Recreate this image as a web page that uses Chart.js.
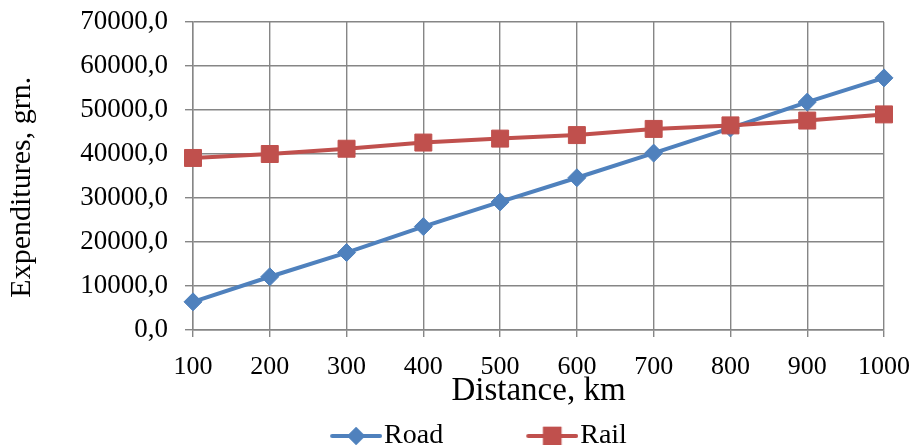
<!DOCTYPE html>
<html>
<head>
<meta charset="utf-8">
<script src="https://cdn.jsdelivr.net/npm/chart.js@4/dist/chart.umd.min.js"></script>
<style>
  html, body { margin: 0; padding: 0; background: #ffffff; }
  #wrap { width: 916px; height: 445px; }
</style>
</head>
<body>
<div id="wrap"><canvas id="chart" width="916" height="445"></canvas></div>
<script>
// Distances, km
const distances = ['100', '200', '300', '400', '500', '600', '700', '800', '900', '1000'];
// Expenditures, grn.
const roadCost = [6400, 12100, 17600, 23500, 29100, 34600, 40200, 45900, 51800, 57300];
const railCost = [39100, 40000, 41200, 42600, 43500, 44300, 45700, 46500, 47600, 49000];
// Y axis range and step
const yMin = 0;
const yMax = 70000;
const yStep = 10000;

const ROAD_COLOR = '#4F81BD';
const RAIL_COLOR = '#C0504D';
const GRID_COLOR = '#868686';
const SERIF = '"Liberation Serif", "Times New Roman", serif';

// Legend swatch width reserved before each label
const SWATCH_BOX = 113;
const LEGEND_FONT = 28;

// Legend swatch: a short line with the series marker in the middle, placed at the
// right edge of a transparent canvas so it sits just before the label text
function legendSwatch(color, style, radius) {
  const c = document.createElement('canvas');
  c.width = SWATCH_BOX + 24;
  c.height = 26;
  const ctx = c.getContext('2d');
  const x1 = c.width - 2, x0 = x1 - 48, cy = 13;
  ctx.strokeStyle = color;
  ctx.lineWidth = 4;
  ctx.lineCap = 'round';
  ctx.beginPath();
  ctx.moveTo(x0, cy); ctx.lineTo(x1, cy);
  ctx.stroke();
  ctx.fillStyle = color;
  Chart.helpers.drawPoint(ctx, { pointStyle: style, radius: radius, borderWidth: 0 }, (x0 + x1) / 2, cy);
  ctx.fill();
  return c;
}

const roadSwatch = legendSwatch(ROAD_COLOR, 'rectRot', 9);
const railSwatch = legendSwatch(RAIL_COLOR, 'rect', 13);

new Chart(document.getElementById('chart'), {
  type: 'line',
  data: {
    labels: distances,
    datasets: [
      {
        label: 'Road',
        data: roadCost,
        borderColor: ROAD_COLOR,
        backgroundColor: ROAD_COLOR,
        borderWidth: 4,
        pointStyle: 'rectRot',
        pointRadius: 9,
        pointBorderWidth: 1,
        tension: 0,
        order: 2
      },
      {
        label: 'Rail',
        data: railCost,
        borderColor: RAIL_COLOR,
        backgroundColor: RAIL_COLOR,
        borderWidth: 4,
        pointStyle: 'rect',
        pointRadius: 12,
        pointBorderWidth: 1,
        tension: 0,
        order: 1
      }
    ]
  },
  options: {
    responsive: false,
    animation: false,
    layout: { padding: { top: 22, right: 32, left: 0, bottom: -15 } },
    plugins: {
      tooltip: { enabled: false },
      legend: {
        position: 'bottom',
        labels: {
          usePointStyle: true,
          pointStyleWidth: SWATCH_BOX,
          padding: 10,
          color: '#000000',
          font: { family: SERIF, size: LEGEND_FONT },
          generateLabels: () => [
            { text: 'Road', pointStyle: roadSwatch, fontColor: '#000', datasetIndex: 0, lineWidth: 0 },
            { text: 'Rail', pointStyle: railSwatch, fontColor: '#000', datasetIndex: 1, lineWidth: 0 }
          ]
        }
      }
    },
    scales: {
      x: {
        offset: false,
        grid: { color: GRID_COLOR, lineWidth: 1.4, tickLength: 7, drawTicks: true },
        border: { color: GRID_COLOR, width: 1.4 },
        ticks: { color: '#000', font: { family: SERIF, size: 26 }, padding: 15, maxRotation: 0, autoSkip: false },
        title: {
          display: true,
          text: 'Distance, km',
          color: '#000',
          font: { family: SERIF, size: 33 },
          padding: { top: 0, bottom: 1 }
        },
        afterFit: (scale) => {
          scale.height = 82;
          scale.paddingLeft = 0;
          scale.paddingRight = 0;
        }
      },
      y: {
        min: yMin,
        max: yMax,
        grid: { color: GRID_COLOR, lineWidth: 1.4, tickLength: 8 },
        border: { color: GRID_COLOR, width: 1.4 },
        ticks: {
          stepSize: yStep,
          autoSkip: false,
          color: '#000',
          font: { family: SERIF, size: 27 },
          padding: 17,
          callback: (v) => v.toFixed(1).replace('.', ',')
        },
        title: {
          display: true,
          text: 'Expenditures, grn.\u00A0\u00A0\u00A0',
          color: '#000',
          font: { family: SERIF, size: 30 },
          padding: { top: 4, bottom: 0 }
        },
        afterFit: (scale) => {
          scale.width = 193;
          scale.paddingTop = 0;
          scale.paddingBottom = 0;
        }
      }
    }
  }
});
</script>
</body>
</html>
